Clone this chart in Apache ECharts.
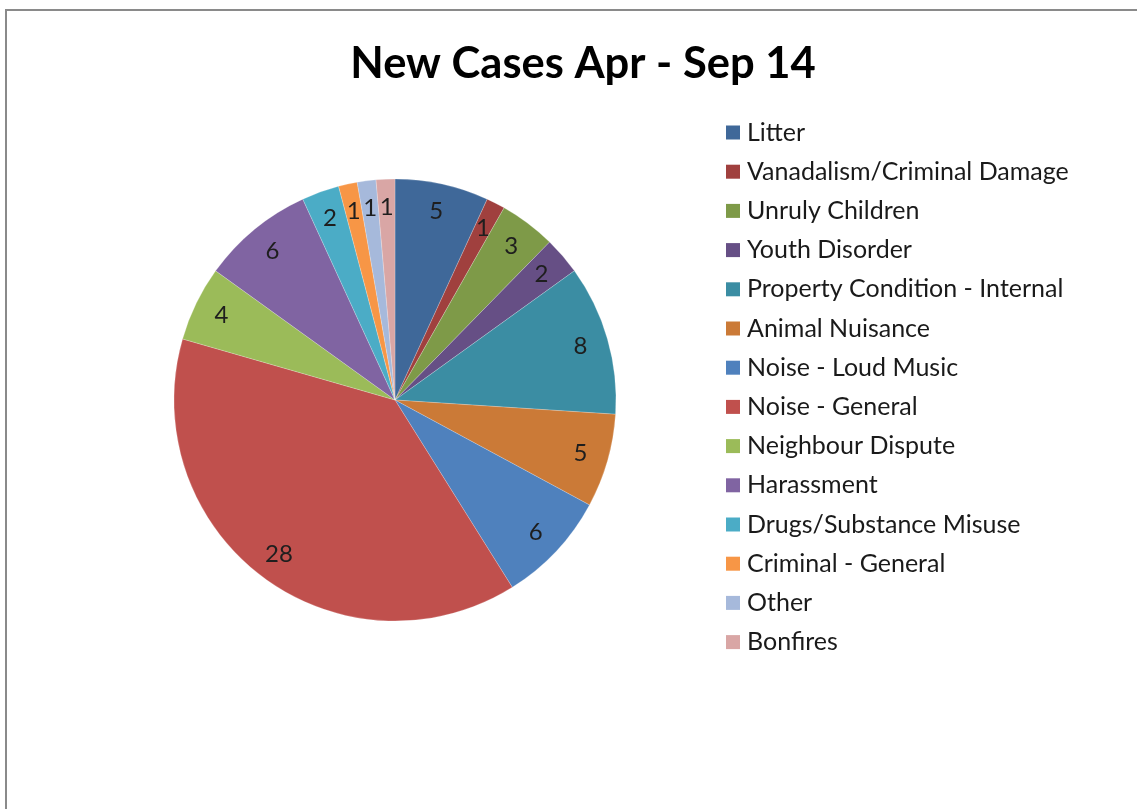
<!DOCTYPE html>
<html>
<head>
<meta charset="utf-8">
<script src="https://cdn.jsdelivr.net/npm/echarts@6/dist/echarts.min.js"></script>
<style>html,body{margin:0;padding:0;background:#fff;}#c{width:1137px;height:809px;}</style>
</head>
<body>
<div id="c"></div>
<script>
const categories = ["Litter","Vanadalism/Criminal Damage","Unruly Children","Youth Disorder","Property Condition - Internal","Animal Nuisance","Noise - Loud Music","Noise - General","Neighbour Dispute","Harassment","Drugs/Substance Misuse","Criminal - General","Other","Bonfires"];
const values = [5,1,3,2,8,5,6,28,4,6,2,1,1,1];
const colors = ["#3F6899","#A0403E","#7E9A48","#664F85","#3B8DA3","#CB7A37","#4F81BD","#C0504D","#9BBB59","#8064A2","#4BACC6","#F79646","#A6B9DB","#D9A6A5"];
const titleText = "New Cases Apr - Sep 14";

const pieData = categories.map((n,i)=>({name:n,value:values[i],itemStyle:{color:colors[i]}}));
const labelData = categories.map((n,i)=>({name:n,value:values[i]}));

const chart = echarts.init(document.getElementById('c'), null, {renderer:'canvas'});
chart.setOption({
  backgroundColor:'#fff',
  animation:false,
  graphic:[{type:'rect',shape:{x:6,y:10,width:1200,height:900},style:{fill:'none',stroke:'#8a8a8a',lineWidth:2},silent:true,z:-1}],
  title:{text:titleText,left:578,top:37,textAlign:'center',textStyle:{fontFamily:'Lato',fontWeight:'bold',fontSize:43.5,color:'#000'}},
  legend:{orient:'vertical',left:721,top:115,itemWidth:14,itemHeight:14,itemGap:14.2,icon:'rect',
    data:categories,
    itemStyle:{borderWidth:0},
    textStyle:{fontFamily:'Lato',fontSize:25,lineHeight:25,color:'#1a1a1a',padding:[0,0,0,2]}},
  series:[
    {type:'pie',center:[395,400],radius:[0,221],startAngle:90,clockwise:true,
     data:pieData,
     itemStyle:{borderColor:'rgba(255,255,255,0.35)',borderWidth:0.6},
     label:{show:false},labelLine:{show:false},emphasis:{disabled:true},silent:true},
    {type:'pie',center:[395,400],radius:[160,220],startAngle:90,clockwise:true,
     data:labelData,silent:true,
     itemStyle:{color:'rgba(0,0,0,0)',borderWidth:0},
     label:{show:true,position:'inside',formatter:'{c}',fontFamily:'Lato',fontSize:24,color:'#1e1e1e'},
     labelLine:{show:false},emphasis:{disabled:true}}
  ]
});
</script>
</body>
</html>
